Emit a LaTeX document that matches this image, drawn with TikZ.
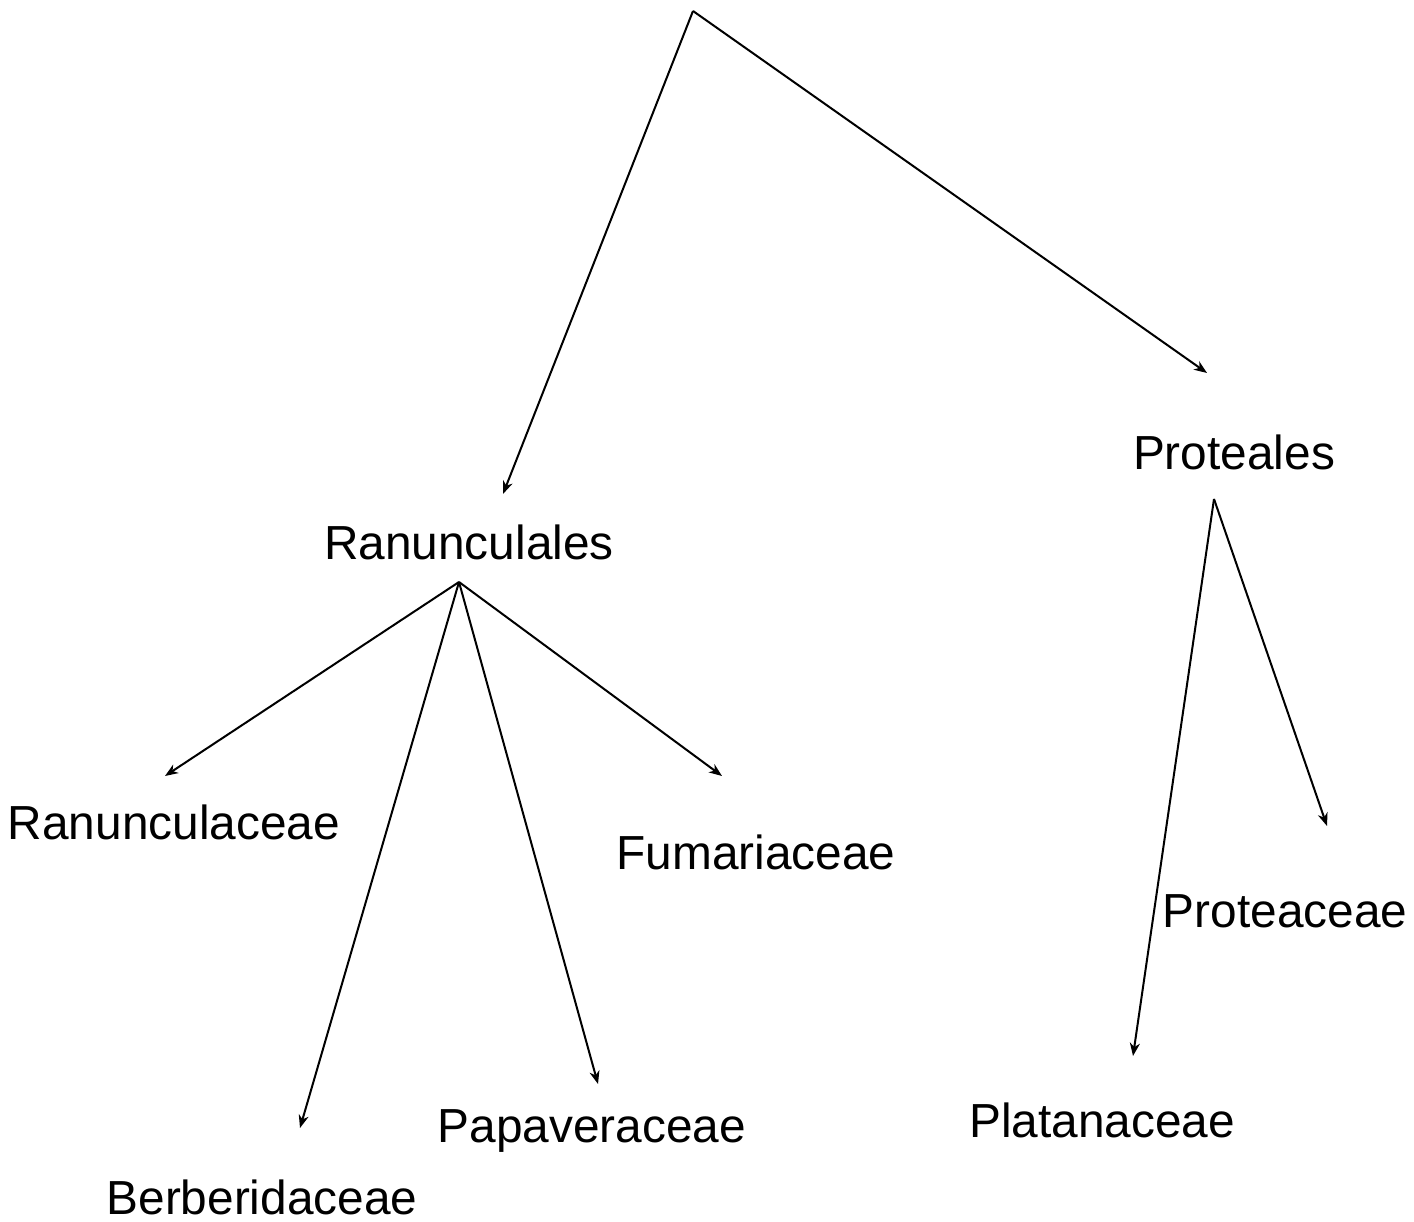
\documentclass[tikz,border=0pt]{standalone}
\usepackage{fontspec}
\setmainfont{Liberation Sans}
\usetikzlibrary{arrows.meta}
\tikzset{
  lbl/.style={anchor=base, inner sep=0pt, font=\fontsize{47.8}{52}\selectfont},
  link/.style={line width=2pt, -{Stealth[length=13pt,width=10pt,inset=4pt]}}
}
\begin{document}
\begin{tikzpicture}[x=1pt,y=-1pt]
\useasboundingbox (0,0) rectangle (1414,1222);
% labels
\node[lbl] (ranales) at (469,559) {Ranunculales};
\node[lbl] (prot) at (1234,469) {Proteales};
\node[lbl] (ranac) at (174,839) {Ranunculaceae};
\node[lbl] (fum) at (756,869) {Fumariaceae};
\node[lbl] (berb) at (262,1214) {Berberidaceae};
\node[lbl] (papa) at (592,1142) {Papaveraceae};
\node[lbl] (plat) at (1102,1137) {Platanaceae};
\node[lbl] (proac) at (1285,927) {Proteaceae};
% connector points
\coordinate (root) at (693,11);
\coordinate (ranalesTop) at (503,494);
\coordinate (protTop) at (1207,373);
\coordinate (ranalesApex) at (459,582);
\coordinate (protApex) at (1214,499);
\coordinate (ranacTop) at (165,776);
\coordinate (berbTop) at (300,1128);
\coordinate (papaTop) at (598,1084);
\coordinate (fumTop) at (722,776);
\coordinate (platTop) at (1133,1056);
\coordinate (proacTop) at (1327,826);
% connectors
\draw[link] (root) -- (ranalesTop);
\draw[link] (root) -- (protTop);
\draw[link] (ranalesApex) -- (ranacTop);
\draw[link] (ranalesApex) -- (berbTop);
\draw[link] (ranalesApex) -- (papaTop);
\draw[link] (ranalesApex) -- (fumTop);
\draw[link] (protApex) -- (platTop);
\draw[link] (protApex) -- (proacTop);
\end{tikzpicture}
\end{document}
